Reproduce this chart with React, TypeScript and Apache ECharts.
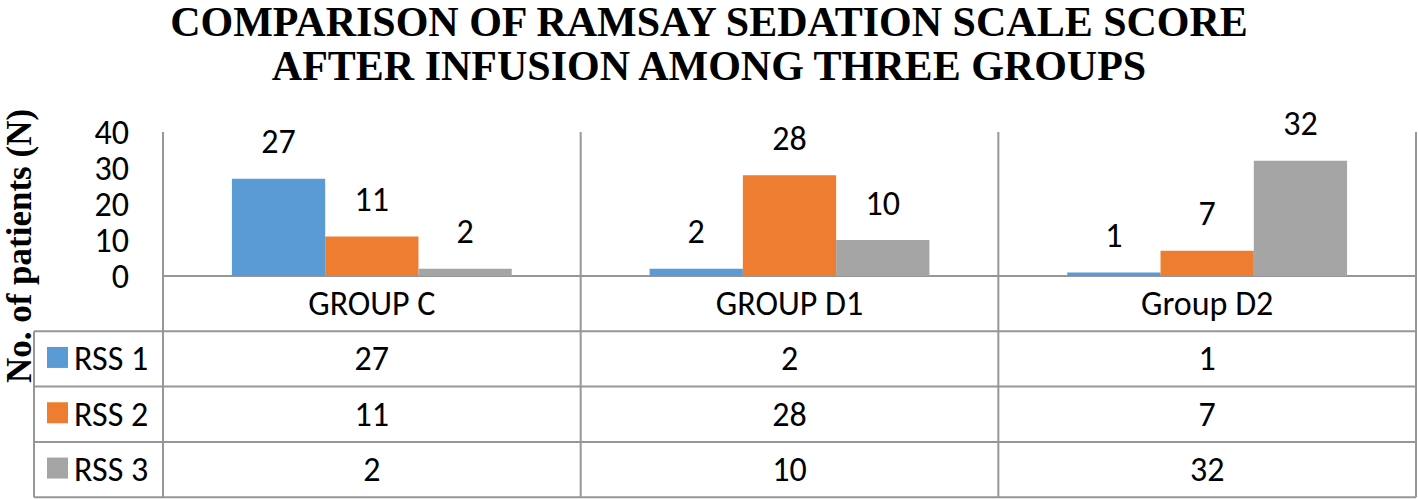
import React, { useEffect, useRef } from "react";
import * as echarts from "echarts";

const categories = ["GROUP C", "GROUP D1", "Group D2"];
const seriesNames = ["RSS 1", "RSS 2", "RSS 3"];
const rss1 = [27, 2, 1];
const rss2 = [11, 28, 7];
const rss3 = [2, 10, 32];
const seriesValues = [rss1, rss2, rss3];
const seriesColors = ["#5B9BD5", "#ED7D31", "#A5A5A5"];
const yMin = 0;
const yMax = 40;
const yInterval = 10;

const titleText =
  "COMPARISON OF RAMSAY SEDATION SCALE SCORE\nAFTER INFUSION AMONG THREE GROUPS";
const yAxisTitle = "No. of patients (N)";

const SANS = "Carlito, Calibri, 'Open Sans', sans-serif";
const SERIF = "'Liberation Serif', 'Times New Roman', serif";
const LINE = "#979797";
const FS = 34;

// layout
const W = 1418;
const H = 499;
const GRID_LEFT = 163;
const GRID_RIGHT_X = 1416;
const GRID_TOP = 132;
const GRID_BASE = 276;
const ROW_H = 55.3;
const TABLE_LEFT = 34;

export default function App() {
  const ref = useRef<HTMLDivElement>(null);

  useEffect(() => {
    if (!ref.current) return;
    const chart = echarts.init(ref.current, null, { renderer: "svg" });
    chart.setOption({
      animation: false,
      backgroundColor: "#ffffff",
      title: {
        text: titleText,
        left: "center",
        top: 0,
        padding: 0,
        textStyle: {
          fontFamily: SERIF,
          fontWeight: "bold",
          fontSize: 42,
          lineHeight: 44,
          color: "#000",
        },
      },
      grid: {
        left: GRID_LEFT,
        right: W - GRID_RIGHT_X,
        top: GRID_TOP,
        bottom: H - GRID_BASE,
        containLabel: false,
      },
      xAxis: {
        type: "category",
        data: categories,
        axisLine: { show: false },
        axisTick: { show: false },
        axisLabel: {
          fontFamily: SANS,
          fontSize: FS,
          color: "#000",
          margin: 27.5,
          verticalAlign: "middle",
        },
      },
      yAxis: {
        type: "value",
        min: yMin,
        max: yMax,
        interval: yInterval,
        axisLine: { show: false },
        axisTick: { show: false },
        splitLine: { show: false },
        axisLabel: {
          fontFamily: SANS,
          fontSize: FS,
          lineHeight: 28,
          color: "#000",
          margin: 34,
        },
      },
      series: seriesNames.map((name, i) => ({
        name,
        type: "bar",
        data: seriesValues[i],
        barGap: "0%",
        barCategoryGap: "33%",
        itemStyle: { color: seriesColors[i] },
        label: {
          show: true,
          position: "top",
          distance: 20,
          fontFamily: SANS,
          fontSize: FS,
          color: "#000",
        },
      })),
    });

    // table structure from the library's scales
    const centers = categories.map(
      (c) => chart.convertToPixel({ xAxisIndex: 0 }, c) as number
    );
    const band =
      centers.length > 1 ? centers[1] - centers[0] : GRID_RIGHT_X - GRID_LEFT;
    const yTop = chart.convertToPixel({ yAxisIndex: 0 }, yMax) as number;
    const yBase = chart.convertToPixel({ yAxisIndex: 0 }, yMin) as number;
    const catRowBottom = yBase + ROW_H;
    const rowTops = seriesNames.map((_, i) => catRowBottom + i * ROW_H);
    const tableBottom = catRowBottom + seriesNames.length * ROW_H;

    const lineStyle = { stroke: LINE, lineWidth: 2 };
    const els: any[] = [];
    const bounds = [centers[0] - band / 2, ...centers.map((c) => c + band / 2)];
    bounds.forEach((x) => {
      els.push({
        type: "line",
        shape: { x1: x, y1: yTop, x2: x, y2: tableBottom },
        style: lineStyle,
        silent: true,
      });
    });
    els.push({
      type: "line",
      shape: { x1: TABLE_LEFT, y1: catRowBottom, x2: TABLE_LEFT, y2: tableBottom },
      style: lineStyle,
      silent: true,
    });
    els.push({
      type: "line",
      shape: { x1: bounds[0], y1: yBase, x2: bounds[bounds.length - 1], y2: yBase },
      style: lineStyle,
      silent: true,
    });
    [catRowBottom, ...rowTops.map((t) => t + ROW_H)].forEach((y) => {
      els.push({
        type: "line",
        shape: { x1: TABLE_LEFT, y1: y, x2: bounds[bounds.length - 1], y2: y },
        style: lineStyle,
        silent: true,
      });
    });
    seriesNames.forEach((name, i) => {
      const cy = rowTops[i] + ROW_H / 2;
      els.push({
        type: "rect",
        shape: { x: 47, y: cy - 12, width: 21, height: 21 },
        style: { fill: seriesColors[i] },
        silent: true,
      });
      els.push({
        type: "text",
        x: 74,
        y: cy,
        style: {
          text: name,
          fontFamily: SANS,
          fontSize: FS,
          fill: "#000",
          align: "left",
          verticalAlign: "middle",
        },
        silent: true,
      });
      seriesValues[i].forEach((v, j) => {
        els.push({
          type: "text",
          x: centers[j],
          y: cy,
          style: {
            text: String(v),
            fontFamily: SANS,
            fontSize: FS,
            fill: "#000",
            align: "center",
            verticalAlign: "middle",
          },
          silent: true,
        });
      });
    });
    els.push({
      type: "text",
      x: 19,
      y: 246,
      rotation: Math.PI / 2,
      style: {
        text: yAxisTitle,
        fontFamily: SERIF,
        fontWeight: "bold",
        fontSize: 35,
        fill: "#000",
        align: "center",
        verticalAlign: "middle",
      },
      silent: true,
    });
    chart.setOption({ graphic: els });

    return () => chart.dispose();
  }, []);

  return (
    <div
      ref={ref}
      style={{ position: "fixed", left: 0, top: 0, width: W, height: H }}
    />
  );
}
